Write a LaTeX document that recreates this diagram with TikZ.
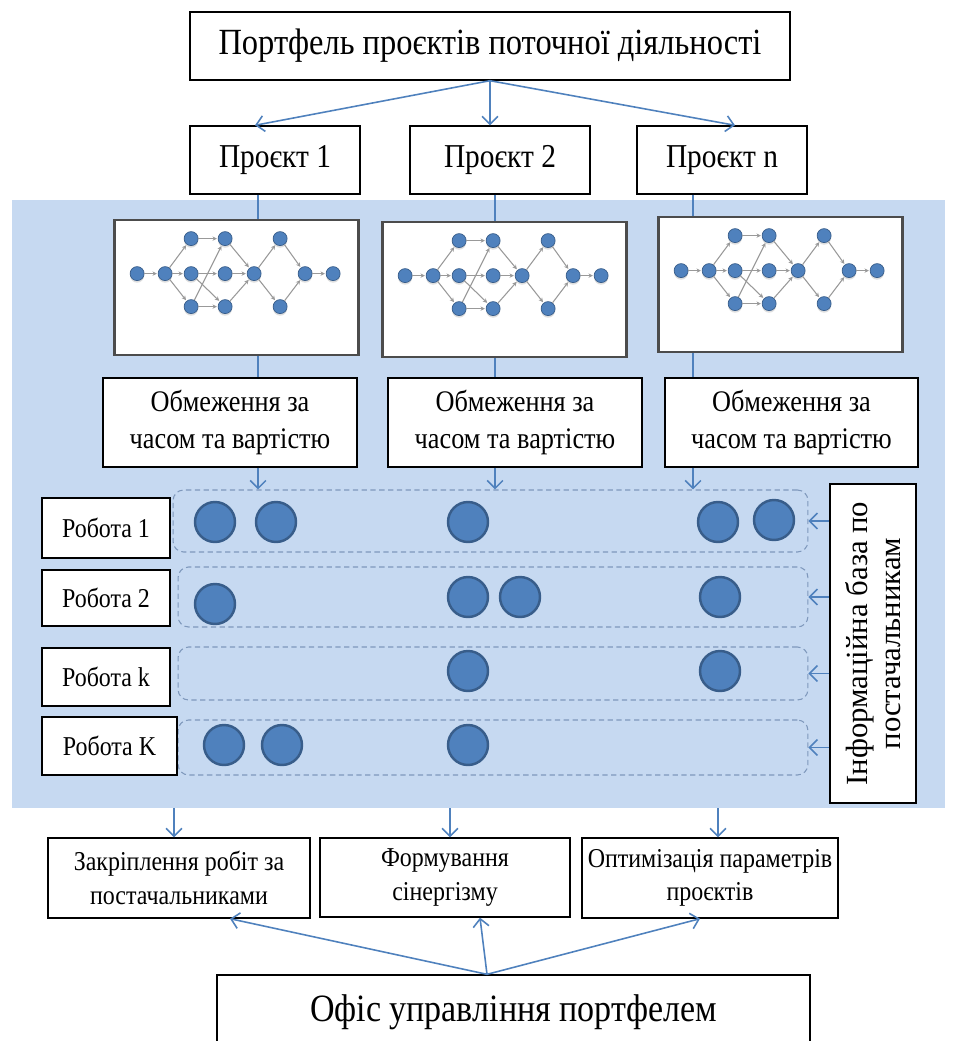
\documentclass[tikz,border=0pt]{standalone}
\usepackage{fontspec}
\setmainfont{Liberation Serif}[FakeStretch=0.88]
\newfontfamily\plainserif{Liberation Serif}
\usetikzlibrary{arrows.meta,shadows}
\definecolor{lineblue}{HTML}{4F81BD}
\definecolor{bgblue}{HTML}{C6D9F1}
\definecolor{rowedge}{HTML}{7F98BC}
\definecolor{jobedge}{HTML}{385D8A}
\tikzset{
  box/.style={draw,line width=0.8pt,fill=white,align=center,inner sep=2pt},
  netbox/.style={draw=black!70,line width=1.6pt,fill=white,minimum width=4.88cm,minimum height=2.7cm},
  bgbox/.style={fill=bgblue,minimum width=18.66cm,minimum height=12.16cm,inner sep=0pt},
  row/.style={draw=rowedge,densely dashed,rounded corners=6pt,line width=0.6pt},
  job/.style={circle,fill=lineblue,draw=jobedge,line width=1.4pt,minimum size=0.8cm,inner sep=0pt},
  gnode/.style={circle,fill=lineblue,draw=jobedge,line width=0.4pt,minimum size=0.28cm,inner sep=0pt,
    drop shadow={shadow xshift=0pt,shadow yshift=-1.2pt,fill=black!25}},
  gedge/.style={draw=black!40,line width=0.6pt,-{Stealth[length=2.5pt,width=2.5pt]},shorten >=0.5pt},
  link/.style={draw=lineblue,line width=0.7pt},
  arr/.style={draw=lineblue,line width=0.9pt,-{Straight Barb[length=4.5pt,width=9pt]}},
  projfont/.style={font=\fontsize{19}{22}\selectfont},
  consfont/.style={font=\fontsize{17}{21}\selectfont},
  workfont/.style={font=\fontsize{15.5}{18}\selectfont},
  outfont/.style={font=\fontsize{15.5}{19}\selectfont},
}
% small project network drawn inside a box
\newcommand\netgraph[1]{%
  \begin{scope}[shift={(#1.north west)}]
    \foreach \i/\u/\v in {1/24/55,2/52/55,3/78/20,4/78/55,5/78/88,6/112/20,7/112/55,
      8/112/88,9/141/55,10/167/20,11/167/88,12/192/55,13/220/55}
      \node[gnode] (#1g\i) at (\u,\v) {};
    \foreach \a/\b in {1/2,2/3,2/4,2/5,3/6,5/6,4/8,5/8,4/7,6/9,7/9,8/9,9/10,9/11,10/12,11/12,12/13}
      \draw[gedge] (#1g\a) -- (#1g\b);
  \end{scope}}

\begin{document}
\begin{tikzpicture}[x=0.02cm,y=-0.02cm]
  \useasboundingbox (0,0) rectangle (953,1041);
  \node[bgbox] (bg) at (478.5,504) {};
  % portfolio and projects
  \node[box,font=\fontsize{21}{24}\selectfont,minimum width=12cm,minimum height=1.36cm] (port) at (490,46)
    {Портфель проєктів поточної діяльності};
  \foreach \N/\X/\W/\T in {1/275/3.4/1,2/500/3.6/2,n/722/3.4/n}
    \node[box,projfont,minimum width=\W cm,minimum height=1.36cm] (p\N) at (\X,160) {Проєкт \T};
  \draw[arr] (port.south) -- ([xshift=-0.4cm]p1.north);
  \draw[arr] (port.south) -- ([xshift=-0.2cm]p2.north);
  \draw[arr] (port.south) -- ([xshift=0.26cm]pn.north);
  % networks and constraints
  \foreach \N/\X/\Y in {1/236.5/287.5,2/504.5/289.5,n/780.5/284.5}
    \node[netbox] (n\N) at (\X,\Y) {};
  \netgraph{n1}
  \netgraph{n2}
  \netgraph{nn}
  \foreach \N/\X/\W in {1/230/5.08,2/515/5.08,n/791.5/5.06}
    \node[box,consfont,minimum width=\W cm,minimum height=1.78cm] (c\N) at (\X,422.5)
      {Обмеження за\\часом та вартістю};
  % works
  \node[row,minimum width=12.7cm,minimum height=1.24cm] (r1) at (490.5,521) {};
  \node[row,minimum width=12.6cm,minimum height=1.2cm] (r2) at (493,597) {};
  \node[row,minimum width=12.6cm,minimum height=1.06cm] (r3) at (493,673.5) {};
  \node[row,minimum width=12.6cm,minimum height=1.1cm] (r4) at (493,747.5) {};
  \foreach \N/\X/\Y/\W/\H/\T in {1/106/528/2.56/1.2/1,2/106/598/2.56/1.12/2,
      k/106/677/2.56/1.16/k,K/109.5/746/2.7/1.16/K}
    \node[box,workfont,minimum width=\W cm,minimum height=\H cm] (w\N) at (\X,\Y) {Робота \T};
  \foreach [count=\k] \X/\Y in {215/522,276/522,468/522,718/522,774/520,
      215/604,468/597,520/597,720/597,468/671,720/671,224/745,282/745,468/745}
    \node[job] (j\k) at (\X,\Y) {};
  \foreach \N/\X in {1/258,2/495,n/693}
    {\coordinate (t\N) at (\X,0);
     \draw[link] (p\N.south -| t\N) -- (n\N.north -| t\N);
     \draw[link] (n\N.south -| t\N) -- (c\N.north -| t\N);
     \draw[arr] (c\N.south -| t\N) -- (r1.north -| t\N);}
  % supplier base
  \node[box,rotate=90,font=\plainserif\fontsize{17.5}{19}\selectfont,minimum width=6.38cm,minimum height=1.72cm]
    (info) at (873,643.5) {Інформаційна база по\\постачальникам};
  \foreach \k in {1,...,4}
    \draw[arr] (info.north |- r\k.east) -- (r\k.east);
  % results
  \node[box,outfont,minimum width=5.24cm,minimum height=1.6cm] (z1) at (179,878)
    {Закріплення робіт за\\постачальниками};
  \node[box,outfont,minimum width=5.0cm,minimum height=1.58cm] (z2) at (445,877.5)
    {Формування\\сінергізму};
  \node[box,outfont,minimum width=5.12cm,minimum height=1.6cm] (z3) at (710,878)
    {Оптимізація параметрів\\проєктів};
  \draw[arr] (bg.south -| 174,0) -- (z1.north -| 174,0);
  \draw[arr] (bg.south -| 450,0) -- (z2.north -| 450,0);
  \draw[arr] (bg.south -| 718,0) -- (z3.north -| 718,0);
  % office
  \node[box,font=\fontsize{22}{26}\selectfont,minimum width=11.86cm,minimum height=1.5cm] (of) at (513.5,1012.5)
    {Офіс управління портфелем};
  \coordinate (src) at ([xshift=-0.53cm]of.north);
  \draw[arr] (src) -- ([xshift=1.02cm]z1.south);
  \draw[arr] (src) -- ([xshift=0.7cm]z2.south);
  \draw[arr] (src) -- ([xshift=-0.2cm]z3.south);
\end{tikzpicture}
\end{document}
